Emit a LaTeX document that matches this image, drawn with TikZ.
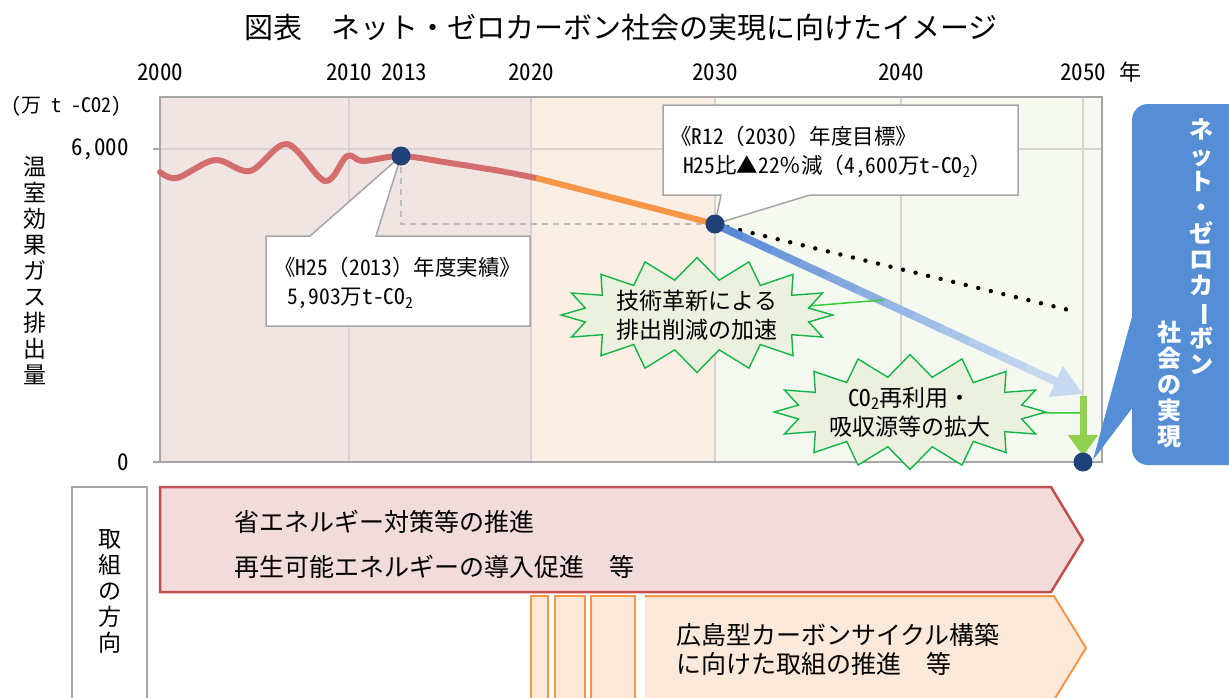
\documentclass[tikz,border=0pt]{standalone}
\usepackage{fontspec}
\setmainfont{Noto Sans CJK JP}
\newfontfamily\hwfont{Noto Sans CJK JP}[RawFeature=+hwid]
\usepackage{graphicx}
\usetikzlibrary{shapes.symbols,arrows.meta,calc}

\definecolor{bgpink}{RGB}{241,229,227}
\definecolor{bgorange}{RGB}{251,238,228}
\definecolor{bggreen}{RGB}{246,249,240}
\definecolor{gridc}{RGB}{216,210,208}
\definecolor{framec}{RGB}{166,166,166}
\definecolor{emired}{RGB}{211,110,108}
\definecolor{emiorange}{RGB}{247,150,70}
\definecolor{dotblue}{RGB}{31,64,120}
\definecolor{arrowblueA}{RGB}{91,139,212}
\definecolor{arrowblueB}{RGB}{198,217,241}
\definecolor{greenarrow}{RGB}{146,208,80}
\definecolor{burstfill}{RGB}{235,241,222}
\definecolor{burstline}{RGB}{20,180,70}
\definecolor{linkgreen}{RGB}{50,205,50}
\definecolor{boxblue}{RGB}{85,142,213}
\definecolor{arrowpink}{RGB}{242,220,219}
\definecolor{arrowpinkline}{RGB}{192,80,77}
\definecolor{arroworange}{RGB}{253,233,217}
\definecolor{arroworangeline}{RGB}{247,150,70}
\definecolor{callgray}{RGB}{166,166,166}
\definecolor{dashgray}{RGB}{190,190,190}

\newcommand\hw[1]{{\hwfont #1}}
\newcommand\subtwo{\textsubscript{\hwfont 2}}

\begin{document}
\begin{tikzpicture}[x=1pt,y=-1pt,
  every node/.style={inner sep=0pt},
  titlefont/.style={font=\fontsize{29}{32}\selectfont},
  yearlabel/.style={font=\hwfont\fontsize{23}{26}\selectfont},
  axistext/.style={font=\hwfont\fontsize{23}{26}\selectfont},
  vlabel/.style={font=\fontsize{23}{26}\selectfont, align=center},
  gridline/.style={draw=gridc, line width=1.3pt},
  calloutbox/.style={fill=white, draw=callgray, line width=1.5pt, line join=miter},
  callouttext/.style={font=\fontsize{21.5}{28.5}\selectfont, align=left, anchor=west},
  burst/.style={starburst, starburst points=16, starburst point height=22pt, random starburst=0,
     fill=burstfill, draw=burstline, line width=1.4pt, align=center,
     font=\fontsize{23}{29}\selectfont},
  linkline/.style={draw=linkgreen, line width=1.5pt},
  dotnode/.style={circle, fill=dotblue, minimum size=19pt},
  boxtext/.style={font=\bfseries\fontsize{24}{26}\selectfont, text=white, align=center, anchor=north},
  pinkarrow/.style={fill=arrowpink, draw=arrowpinkline, line width=2.5pt, line join=miter},
  orangearrow/.style={fill=arroworange, draw=arroworangeline, line width=2pt, line join=miter},
  bottomtext/.style={font=\fontsize{25}{28}\selectfont, anchor=west}
]
\useasboundingbox (0,0) rectangle (1229,697);
\fill[white] (0,0) rectangle (1229,697);

% title
\node[titlefont] (title) at (621,28) {図表　ネット・ゼロカーボン社会の実現に向けたイメージ};

% year labels
\node[yearlabel] (y2000) at (160,72) {2000};
\node[yearlabel] (y2010) at (349,72) {2010};
\node[yearlabel] (y2013) at (404,72) {2013};
\node[yearlabel] (y2020) at (531,72) {2020};
\node[yearlabel] (y2030) at (715,72) {2030};
\node[yearlabel] (y2040) at (901,72) {2040};
\node[yearlabel] (y2050) at (1083,72) {2050};
\node[font=\fontsize{22}{26}\selectfont] (ynen) at (1130,72) {年};

% plot background
\fill[bgpink] (160,97) rectangle (531,462);
\fill[bgorange] (531,97) rectangle (715,462);
\fill[bggreen] (715,97) rectangle (1102,462);
\foreach \gx in {349,531,715,901,1083} \draw[gridline] (\gx,97) -- (\gx,462);
\draw[gridline] (160,149) -- (1102,149);
\draw[framec, line width=2pt] (160,97) rectangle (1102,462);
\draw[framec, line width=1.5pt] (153,149) -- (160,149) (153,462) -- (160,462);

% axis labels
\node[font=\hwfont\fontsize{20}{24}\selectfont] (unit) at (66,106) {(万 t -CO2)};
\node[axistext, anchor=east] (v6000) at (129,149) {6,000};
\node[axistext, anchor=east] (v0) at (129,462) {0};
\node[vlabel, anchor=north] (ylab) at (35,156) {温\\室\\効\\果\\ガ\\ス\\排\\出\\量};

% key coordinates
\coordinate (p2013) at (401,156);
\coordinate (p2019) at (536,178);
\coordinate (p2030) at (715,224);
\coordinate (p2050) at (1083,462);
\coordinate (bluetip) at (1083,394);
\coordinate (dotend) at (1077,312);
\coordinate (dashcorner) at (401,224);
\coordinate (greentop) at (1083,396);
\coordinate (greentip) at (1083,456);

% dashed guide
\draw[dashgray, line width=1.5pt, dash pattern=on 6pt off 5pt] (p2013) -- (dashcorner) -- (p2030);

% emissions
\draw[emired, line width=6pt, line cap=round, line join=round]
  plot[smooth, tension=0.55] coordinates {(160,172) (177,178) (215,160) (250,171) (287,144) (325,181) (347,156) (363,161) (401,156) (450,163) (500,171) (536,178)};
\draw[emiorange, line width=6pt] (p2019) -- (p2030);

% dotted BAU line
\draw[black, line width=4.4pt, line cap=round, dash pattern=on 0pt off 12.9pt] (p2030) -- (dotend);

% gradient blue arrow
\foreach \i in {0,...,11} {
  \pgfmathsetmacro\ta{\i*0.92/12}
  \pgfmathsetmacro\tb{(\i+1)*0.92/12+0.004}
  \pgfmathtruncatemacro\pc{100-\i*100/11}
  \draw[arrowblueA!\pc!arrowblueB, line width=8pt] ($(p2030)!\ta!(bluetip)$) -- ($(p2030)!\tb!(bluetip)$);
}
\draw[arrowblueB, line width=8pt, -{Triangle[length=30pt,width=32pt]}] ($(p2030)!0.9!(bluetip)$) -- (bluetip);

% starbursts with links
\coordinate (b1c) at (697,315);
\coordinate (b1link) at (883,300);
\draw[linkline] (b1c) -- (b1link);
\node[burst, minimum width=264pt, minimum height=110pt] (burst1) at (b1c) {技術革新による\\排出削減の加速};

\coordinate (b2c) at (910,412);
\coordinate (b2link) at (1082,413);
\draw[linkline] (b2c) -- (b2link);
\node[burst, minimum width=266pt, minimum height=100pt] (burst2) at (b2c) {\hw{CO}\subtwo 再利用・\\吸収源等の拡大};

% green arrow
\draw[greenarrow, line width=7pt, -{Triangle[length=21pt,width=29pt]}] (greentop) -- (greentip);

% callout 1
\draw[calloutbox] (266,236) -- (310,236) -- (p2013) -- (376,236) -- (530,236) -- (530,326) -- (266,326) -- cycle;
\node[callouttext] (c1) at (274,283) {《\hw{H25}（\hw{2013}）年度実績》\\\hspace*{0.6em}\hw{5,903}万\hw{t-CO}\subtwo};

% callout 2
\draw[calloutbox] (663,105) -- (1018,105) -- (1018,195) -- (810,195) -- (p2030) -- (721,195) -- (663,195) -- cycle;
\node[callouttext] (c2) at (670,152) {《\hw{R12}（\hw{2030}）年度目標》\\\hspace*{0.6em}\hw{H25}比▲\hw{22}％減（\hw{4,600}万\hw{t-CO}\subtwo）};

% dots
\node[dotnode] (d2013) at (p2013) {};
\node[dotnode] (d2030) at (p2030) {};
\node[dotnode] (d2050) at (p2050) {};

% blue goal box
\coordinate (wedgetip) at (1093,460);
\fill[boxblue, rounded corners=16pt] (1132,104) rectangle (1246,465);
\fill[boxblue] (1133,313) -- (wedgetip) -- (1133,407) -- cycle;
\node[boxtext] (goal1) at (1201,118) {ネ\\ッ\\ト\\・\\ゼ\\ロ\\カ\\\rotatebox[origin=c]{-90}{ー}\\ボ\\ン};
\node[boxtext] (goal2) at (1169,321) {社\\会\\の\\実\\現};

% bottom: direction label
\draw[framec, line width=1.5pt] (72,487) rectangle (147,705);
\node[vlabel, anchor=north] (dirlab) at (110,529) {取\\組\\の\\方\\向};

% red arrow
\draw[pinkarrow] (160,487) -- (1051,487) -- (1083,540) -- (1051,592) -- (160,592) -- cycle;
\node[bottomtext] (t1) at (234,522) {省エネルギー対策等の推進};
\node[bottomtext] (t2) at (234,567) {再生可能エネルギーの導入促進　等};

% orange arrow and strips
\draw[orangearrow] (531,596) rectangle (548,705);
\draw[orangearrow] (555,596) rectangle (585,705);
\draw[orangearrow] (591,596) rectangle (635,705);
\draw[orangearrow] (645,596) -- (1054,596) -- (1086,648) -- (1054,700) -- (645,700);
\node[bottomtext] (t3) at (676,635) {広島型カーボンサイクル構築};
\node[bottomtext] (t4) at (676,664) {に向けた取組の推進　等};
\end{tikzpicture}
\end{document}
